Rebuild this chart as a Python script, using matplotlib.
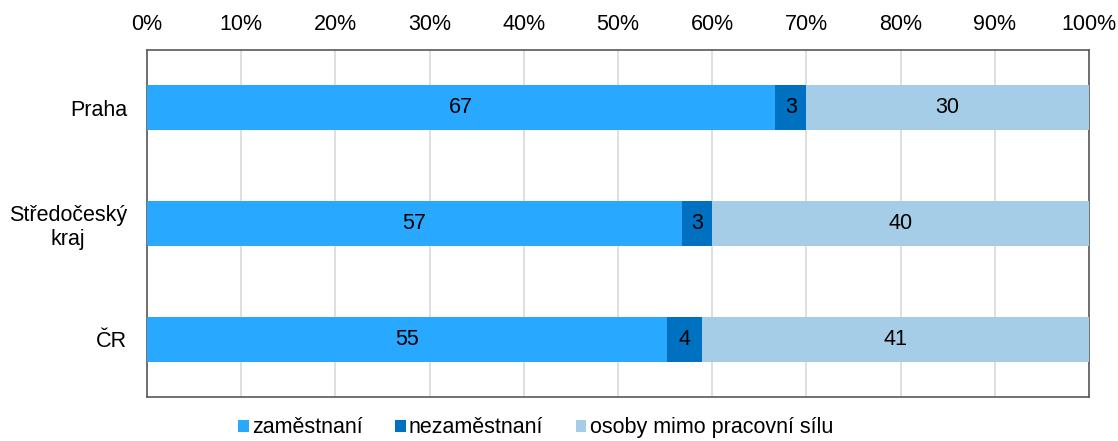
import matplotlib.pyplot as plt
from matplotlib.ticker import FixedLocator, PercentFormatter

plt.rcParams['font.family'] = ['Liberation Sans', 'DejaVu Sans']

regions = ['Praha', 'Středočeský\nkraj', 'ČR']
series = ['zaměstnaní', 'nezaměstnaní', 'osoby mimo pracovní sílu']
employed = [66.7, 56.8, 55.2]
unemployed = [3.3, 3.2, 3.7]
outside = [30.0, 40.0, 41.1]
colors = ['#29A8FF', '#0070C0', '#A6CDE8']

fs = 15.5

fig = plt.figure(figsize=(11.18, 4.41), dpi=100)
ax = fig.add_axes([0.1315, 0.0998, 0.8425, 0.7868])

ypos = range(len(regions))
left = [0.0] * len(regions)
handles = []
for name, vals, col in zip(series, [employed, unemployed, outside], colors):
    bars = ax.barh(ypos, vals, left=left, height=0.39, color=col, label=name, zorder=3)
    ax.bar_label(bars, labels=['{:.0f}'.format(v) for v in vals], label_type='center',
                 fontsize=fs, color='black')
    handles.append(bars)
    left = [l + v for l, v in zip(left, vals)]

ax.set_xlim(0, 100)
ax.set_ylim(2.5, -0.5)
ax.set_yticks(list(ypos))
ax.set_yticklabels(regions, fontsize=fs)
for t in ax.get_yticklabels():
    t.set_multialignment('center')
ax.xaxis.set_major_locator(FixedLocator(range(0, 101, 10)))
ax.xaxis.set_major_formatter(PercentFormatter(decimals=0))
ax.xaxis.tick_top()
ax.tick_params(axis='x', labelsize=fs, length=0, pad=11)
ax.tick_params(axis='y', length=0, pad=14.5)
ax.grid(axis='x', color='#D9D9D9', linewidth=1.2, zorder=0)
for s in ax.spines.values():
    s.set_color('#595959')
    s.set_linewidth(1.2)

# legend sits right at the bottom edge, as in the original
fig.legend(handles=handles, loc='lower center', bbox_to_anchor=(0.479, -0.038), ncol=3,
           frameon=False, fontsize=fs, handlelength=0.5, handleheight=0.5,
           handletextpad=0.15, columnspacing=1.5)

fig.savefig('out.png', dpi=100)
